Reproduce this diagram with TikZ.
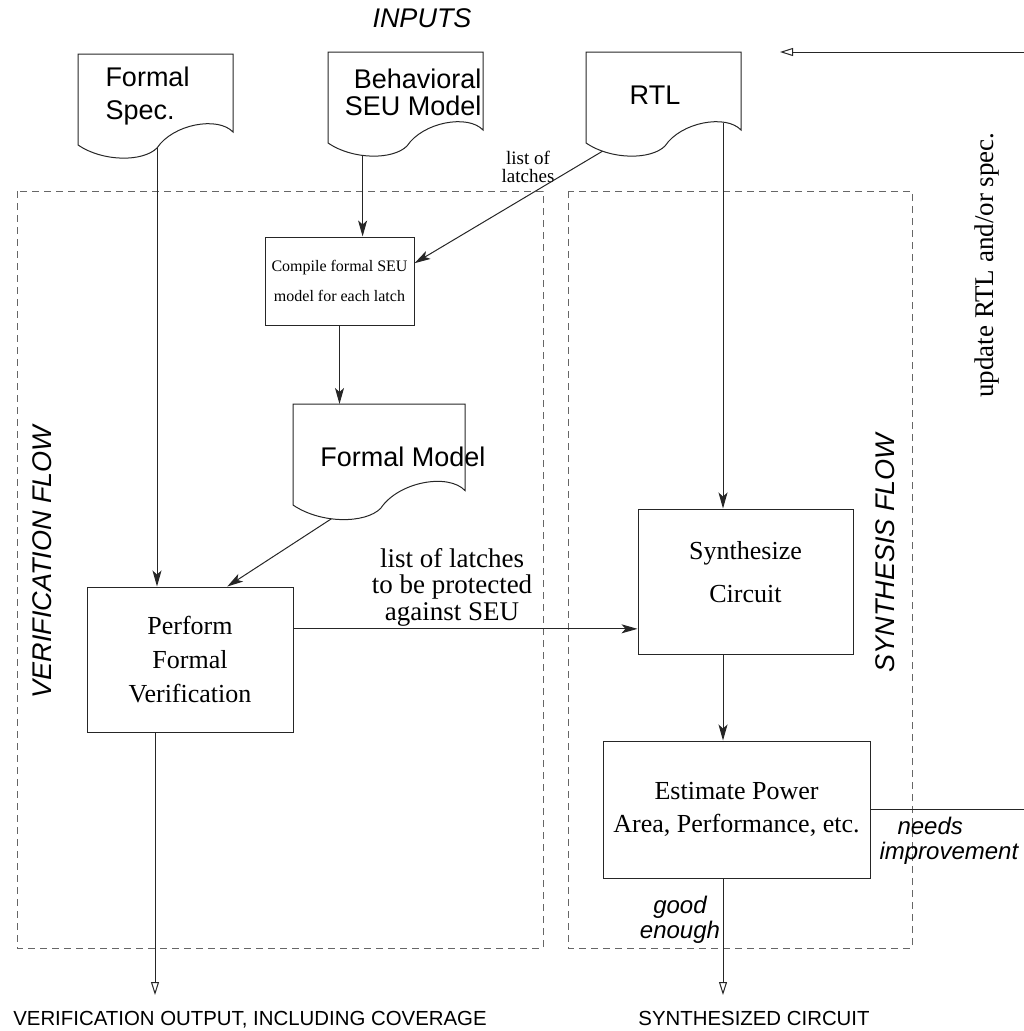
\documentclass[tikz,border=0pt]{standalone}
\usepackage{fontspec}
\setmainfont{Liberation Serif}
\setsansfont{Liberation Sans}
\usetikzlibrary{arrows.meta,calc}

\begin{document}
\begin{tikzpicture}[x=1pt, y=-1pt, line width=1pt,
    >={Stealth[length=16pt,width=9pt,inset=4pt]},
    link/.style={->, color=black!85},
    outarrow/.style={-{Triangle[open,length=13pt,width=8pt]}, color=black!85},
    box/.style={draw=black!85, rectangle, inner sep=0pt, align=center, font=\fontsize{26}{34}\selectfont},
    region/.style={draw=black!60, dash pattern=on 7pt off 5pt},
    doclbl/.style={inner sep=0pt, font=\sffamily\fontsize{27}{33}\selectfont},
    tag/.style={inner sep=0pt, align=center, font=\sffamily\itshape\fontsize{24}{25}\selectfont},
    outlbl/.style={inner sep=0pt, font=\sffamily\fontsize{20.4}{24}\selectfont},
    flowlbl/.style={inner sep=0pt, rotate=90, font=\sffamily\itshape\fontsize{27}{30}\selectfont},
    docshape/.pic={
      \draw[black!85] (0,0) -- (155,0) -- (155,78) .. controls (140,62) and (95,70) .. (79,94)
        .. controls (65,108) and (25,108) .. (0,91) -- cycle;
      \coordinate (-nw) at (0,0);
      \coordinate (-tip) at (79,94);
      \coordinate (-low) at (34.6,103.4);
      \coordinate (-bl) at (16.5,99.2);
      \coordinate (-cr) at (137,70.5);
    }]
  \useasboundingbox (0,0) rectangle (1024,1031);

  \draw[region] (17,191) rectangle (543,948);
  \draw[region] (568,191) rectangle (912,948);

  \node[inner sep=0pt, anchor=base, font=\sffamily\itshape\fontsize{27}{30}\selectfont] (inputs) at (422,27) {INPUTS};

  \pic (fspec) at (78,54) {docshape};
  \pic (beh) at (328,52) {docshape};
  \pic (rtl) at (586,52) {docshape};
  \pic[scale=1.11] (fmodel) at (293,404) {docshape};

  \node[doclbl, align=left, anchor=west] (fspectxt) at (105,96.5) {Formal\\Spec.};
  \node[doclbl, align=right, anchor=east] (behtxt) at (482,92) {Behavioral\\[-6pt]SEU Model};
  \node[doclbl, anchor=base] (rtltxt) at (655,104) {RTL};
  \node[doclbl, anchor=base] (fmodeltxt) at (403,466) {Formal Model};

  \node[box, minimum width=149pt, minimum height=88pt, font=\fontsize{16}{30}\selectfont] (compile) at (339.5,281) {Compile formal SEU\\model for each latch};
  \node[box, minimum width=206pt, minimum height=145pt] (perform) at (190,659.5) {Perform\\Formal\\Verification};
  \node[box, minimum width=215pt, minimum height=145pt, text depth=19pt] (synth) at (745.5,581.5) {Synthesize\\[9pt]Circuit};
  \node[box, minimum width=267pt, minimum height=137pt, font=\fontsize{26}{33}\selectfont] (estimate) at (736.5,809.5) {Estimate Power\\Area, Performance, etc.};

  \node[inner sep=0pt, align=center, font=\fontsize{19}{18}\selectfont] (latchtxt) at (528,167) {list of\\latches};
  \node[inner sep=0pt, align=center, font=\fontsize{27}{26.5}\selectfont] (protecttxt) at (452,587) {list of latches\\to be protected\\against SEU};

  \node[flowlbl] (vflow) at (42.5,562) {VERIFICATION FLOW};
  \node[flowlbl] (sflow) at (885,553) {SYNTHESIS FLOW};
  \node[inner sep=0pt, rotate=90, font=\fontsize{27}{30}\selectfont] (updtxt) at (987,265) {update RTL and/or spec.};

  \node[tag, align=left, anchor=west] (needs) at (879,841) {\hspace*{18pt}needs\\improvement};
  \node[tag] (good) at (680,920) {good\\enough};

  \node[outlbl, anchor=base] (voutlbl) at (250,1025) {VERIFICATION OUTPUT, INCLUDING COVERAGE};
  \node[outlbl, anchor=base] (soutlbl) at (754,1025) {SYNTHESIZED CIRCUIT};

  \coordinate (vout) at (155,995);
  \coordinate (sout) at (723,995);
  \coordinate (fbcorner) at (1025.5,52);
  \coordinate (fbend) at (780,52);
  \coordinate (handoff) at ($(perform.north east)!0.29!(perform.south east)$);

  \draw[link] (fspec-tip) -- (fspec-tip |- perform.north);
  \draw[link] (beh-low) -- (beh-low |- compile.north);
  \draw[link] (rtl-bl) -- ($(compile.north east)!0.3!(compile.south east)$);
  \draw[link] (compile.south) -- (compile.south |- fmodel-nw);
  \draw[link] (fmodel-low) -- ($(perform.north west)!0.68!(perform.north east)$);
  \draw[link] (rtl-cr) -- (rtl-cr |- synth.north);
  \draw[link] (rtl-cr |- synth.south) -- (rtl-cr |- estimate.north);
  \draw[link] (handoff) -- (handoff -| synth.west);
  \draw[outarrow] (perform.south -| vout) -- (vout);
  \draw[outarrow] (estimate.south -| sout) -- (sout);
  \draw[outarrow] (estimate.east) -- (estimate.east -| fbcorner) -- (fbcorner) -- (fbend);
\end{tikzpicture}
\end{document}
